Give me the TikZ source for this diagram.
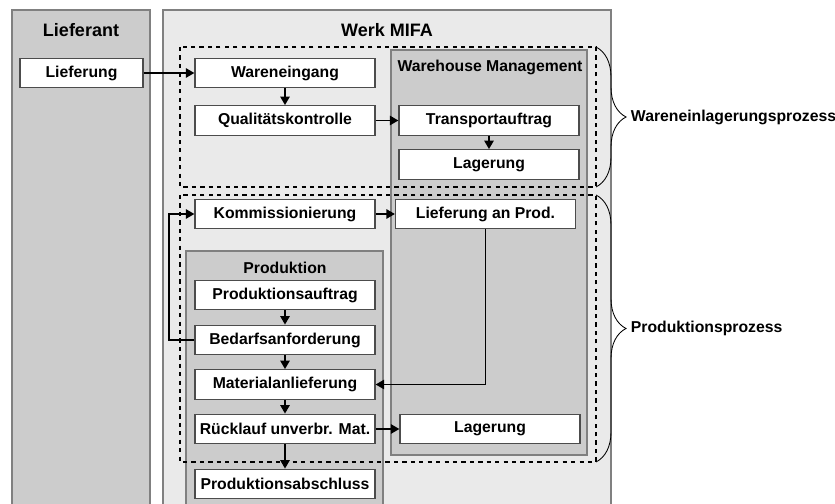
\documentclass[tikz,border=0pt]{standalone}
\usepackage{fontspec}
\setmainfont{Liberation Sans}
\usepackage{xcolor}
\usepackage{tikz}
\usetikzlibrary{arrows.meta,decorations.pathreplacing}

\definecolor{lanegray}{HTML}{CCCCCC}
\definecolor{werkgray}{HTML}{EAEAEA}
\definecolor{edgegray}{HTML}{808080}

\tikzset{
    lane/.style={draw=edgegray, line width=0.8pt},
    proc/.style={draw=black!70, fill=white, line width=0.8pt, inner sep=0pt,
        minimum width=4.5cm, minimum height=0.74cm,
        font=\fontsize{11.2}{13}\selectfont\bfseries},
    ttl/.style={font=\fontsize{11.2}{13}\selectfont\bfseries},
    bigttl/.style={font=\fontsize{12.8}{15}\selectfont\bfseries},
    flow/.style={line width=1.4pt, -{Triangle[length=6pt,width=6.5pt]}},
    grp/.style={dashed, line width=1.1pt},
    brc/.style={decorate, decoration={brace, amplitude=0.75cm}, line width=0.6pt},
}

\begin{document}
\begin{tikzpicture}[x=0.025cm, y=-0.025cm]
        \useasboundingbox (0,0) rectangle (835,504);

        \draw[lane, fill=lanegray] (12,505) -- (12,10) -- (150,10) -- (150,505);
        \node[bigttl] (lieferant) at (81,30) {Lieferant};
        \draw[lane, fill=werkgray] (163,505) -- (163,10) -- (611,10) -- (611,505);
        \node[bigttl] (werk) at (387,30) {Werk MIFA};

        \draw[lane, fill=lanegray] (391,50) rectangle (587,455);
        \node[ttl] (wm) at (490,67) {Warehouse Management};
        \draw[lane, fill=lanegray] (186,505) -- (186,251) -- (383,251) -- (383,505);
        \node[ttl] (prod) at (285,268) {Produktion};

        \draw[grp] (180,47) rectangle (596,187);
        \draw[grp] (180,195) rectangle (596,462);

        \node[proc, minimum width=3.075cm] (lief) at (81.5,73) {Lieferung};
        \node[proc] (wein) at (285,73) {Wareneingang};
        \node[proc] (qual) at (285,120.5) {Qualitätskontrolle};
        \node[proc] (trans) at (489,120.5) {Transportauftrag};
        \node[proc] (lag1) at (489,164.5) {Lagerung};
        \node[proc] (komm) at (285,214) {Kommissionierung};
        \node[proc] (lprod) at (485.5,214) {Lieferung an Prod.};
        \node[proc] (pauf) at (285,295) {Produktionsauftrag};
        \node[proc] (bed) at (285,340) {Bedarfsanforderung};
        \node[proc] (mat) at (285,384.5) {Materialanlieferung};
        \node[proc] (rueck) at (285,429) {Rücklauf unverbr. Mat.};
        \node[proc] (absch) at (285,484) {Produktionsabschluss};
        \node[proc] (lag2) at (490,429) {Lagerung};

        \draw[flow] (lief) -- (wein);
        \draw[flow] (wein) -- (qual);
        \draw[flow] (qual) -- (trans);
        \draw[flow] (trans) -- (lag1);
        \draw[flow] (komm) -- (lprod);
        \draw[flow] (bed.west) -- ++(-25,0) |- (komm.west);
        \draw[flow] (lprod.south) |- (mat.east);
        \draw[flow] (pauf) -- (bed);
        \draw[flow] (bed) -- (mat);
        \draw[flow] (mat) -- (rueck);
        \draw[flow] (rueck) -- (absch);
        \draw[flow] (rueck) -- (lag2);

        \draw[brc] (596,47) -- (596,187);
        \node[ttl, anchor=west] (wlp) at (626,117) {Wareneinlagerungsprozess};
        \draw[brc] (596,195) -- (596,462);
        \node[ttl, anchor=west] (pp) at (626,328.5) {Produktionsprozess};
\end{tikzpicture}
\end{document}
